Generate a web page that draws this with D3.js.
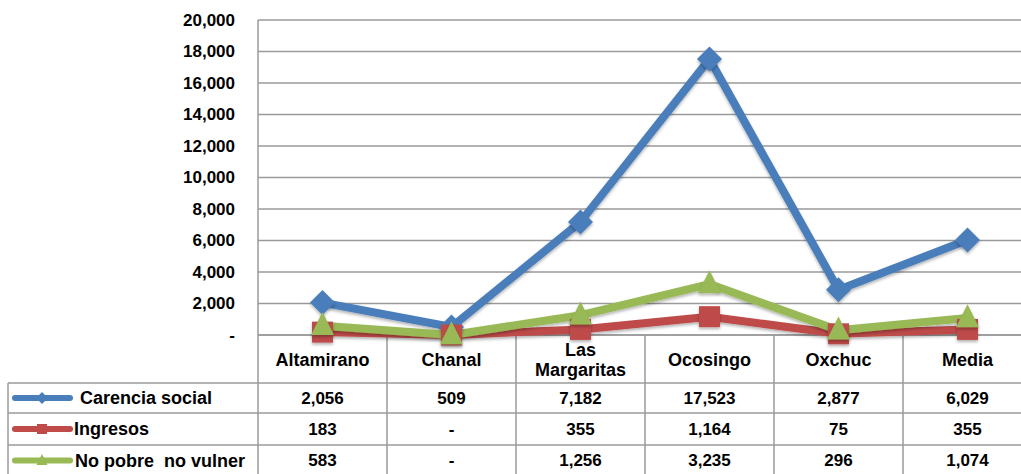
<!DOCTYPE html>
<html><head><meta charset="utf-8">
<script src="https://cdn.jsdelivr.net/npm/d3@7"></script>
<style>
html,body{margin:0;padding:0;background:#fff;}
svg{display:block;font-family:"Liberation Sans",Arial,sans-serif;font-weight:bold;}
text{white-space:pre;}
</style></head>
<body><svg id="c" width="1021" height="474"></svg>
<script>
const categories = ["Altamirano","Chanal","Las Margaritas","Ocosingo","Oxchuc","Media"];
const seriesNames = ["Carencia social","Ingresos","No pobre  no vulner"];
const carencia = [2056,509,7182,17523,2877,6029];
const ingresos = [183,0,355,1164,75,355];
const noPobre = [583,0,1256,3235,296,1074];
const yTicks = [0,2000,4000,6000,8000,10000,12000,14000,16000,18000,20000];
const colors = ["#4a7ebb","#be4b48","#98b954"];
const markerTypes = ["diamond","square","triangle"];
const series = [carencia, ingresos, noPobre];

(function(){
const svg = d3.select("#c");
const pLeft = 258, pRight = 1032, pTop = 20, pBottom = 335;
const x = d3.scaleBand().domain(categories).range([pLeft, pRight]).padding(0);
const y = d3.scaleLinear().domain([0,20000]).range([pBottom, pTop]);
const fmt = v => v === 0 ? "-" : d3.format(",")(v);
const gridColor = "#9a9a9a";
const numSize = 17, txtSize = 18;

svg.append("g").selectAll("line").data(yTicks).join("line")
  .attr("x1", pLeft).attr("x2", 1021)
  .attr("y1", d => y(d)).attr("y2", d => y(d))
  .attr("stroke", gridColor).attr("stroke-width", 1.5);
svg.append("line").attr("x1", pLeft).attr("x2", pLeft).attr("y1", pTop).attr("y2", pBottom)
  .attr("stroke", gridColor).attr("stroke-width", 1.5);
svg.append("g").selectAll("text").data(yTicks).join("text")
  .attr("x", 235).attr("y", d => y(d)).attr("dy", "0.35em")
  .attr("text-anchor", "end").attr("font-size", numSize).attr("fill", "#000")
  .text(d => d === 0 ? "-" : d3.format(",")(d));

const rowY = [335, 383, 413, 445, 476];
const tbl = svg.append("g");
categories.forEach(c => {
  const cx = x(c) + x.bandwidth()/2;
  if (c === "Las Margaritas") {
    tbl.append("text").attr("x", cx).attr("y", 350).attr("dy","0.35em").attr("text-anchor","middle").attr("font-size",txtSize).text("Las");
    tbl.append("text").attr("x", cx).attr("y", 370).attr("dy","0.35em").attr("text-anchor","middle").attr("font-size",txtSize).text("Margaritas");
  } else {
    tbl.append("text").attr("x", cx).attr("y", 360).attr("dy","0.35em").attr("text-anchor","middle").attr("font-size",txtSize).text(c);
  }
});
categories.forEach(c => {
  tbl.append("line").attr("x1", x(c)).attr("x2", x(c)).attr("y1", pBottom).attr("y2", 474)
    .attr("stroke", gridColor).attr("stroke-width", 1.5);
});
tbl.append("line").attr("x1", 8).attr("x2", 8).attr("y1", rowY[1]).attr("y2", 474)
  .attr("stroke", gridColor).attr("stroke-width", 1.5);
tbl.append("line").attr("x1", pLeft).attr("x2", 1021).attr("y1", pBottom).attr("y2", pBottom).attr("stroke", gridColor).attr("stroke-width", 1.5);
[rowY[1], rowY[2], rowY[3]].forEach(yy => {
  tbl.append("line").attr("x1", 8).attr("x2", 1021).attr("y1", yy).attr("y2", yy).attr("stroke", gridColor).attr("stroke-width", 1.5);
});

function markerPath(type, s) {
  if (type === "diamond") return `M0,${-s}L${s},0L0,${s}L${-s},0Z`;
  if (type === "square") return `M${-s},${-s}H${s}V${s}H${-s}Z`;
  return `M0,${-s*1.2}L${s},${s*0.8}H${-s}Z`;
}
const mSize = [12.5, 10.5, 11.5];
const textX = [80, 74, 75];

series.forEach((vals, i) => {
  const cy = (rowY[i+1] + rowY[i+2]) / 2;
  const lg = tbl.append("g");
  lg.append("line").attr("x1", 15).attr("x2", 70).attr("y1", cy).attr("y2", cy)
    .attr("stroke", colors[i]).attr("stroke-width", 6).attr("stroke-linecap","round");
  const ms = [6,5,5.5][i];
  lg.append("path").attr("d", markerPath(markerTypes[i], ms)).attr("transform", `translate(42,${cy})`).attr("fill", colors[i]);
  lg.append("text").attr("x", textX[i]).attr("y", cy).attr("dy","0.35em").attr("font-size",txtSize).text(seriesNames[i]);
  vals.forEach((v, j) => {
    tbl.append("text").attr("x", x(categories[j]) + x.bandwidth()/2).attr("y", cy).attr("dy","0.35em")
      .attr("text-anchor","middle").attr("font-size",numSize).text(fmt(v));
  });
});

const line = d3.line().x((d,j) => x(categories[j]) + x.bandwidth()/2).y(d => y(d));
const defs = svg.append("defs");
const f = defs.append("filter").attr("id","sh").attr("x","-50%").attr("y","-50%").attr("width","200%").attr("height","200%");
f.append("feDropShadow").attr("dx",0).attr("dy",2).attr("stdDeviation",1.5).attr("flood-color","#000").attr("flood-opacity",0.3);

series.forEach((vals, i) => {
  svg.append("path").datum(vals).attr("d", line).attr("fill","none")
    .attr("stroke", colors[i]).attr("stroke-width", 8).attr("stroke-linejoin","round").attr("filter","url(#sh)");
});
series.forEach((vals, i) => {
  svg.append("g").selectAll("path").data(vals).join("path")
    .attr("d", markerPath(markerTypes[i], mSize[i]))
    .attr("transform", (d,j) => `translate(${x(categories[j]) + x.bandwidth()/2},${y(d)})`)
    .attr("fill", colors[i]).attr("filter","url(#sh)");
});
})();
</script></body></html>
